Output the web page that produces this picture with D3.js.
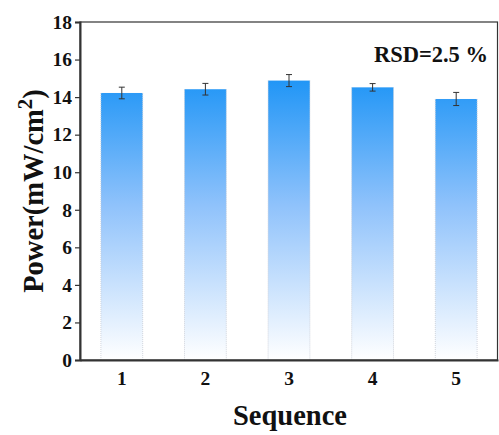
<!DOCTYPE html>
<html><head><meta charset="utf-8">
<script src="https://cdn.jsdelivr.net/npm/d3@7"></script>
</head><body style="margin:0;background:#fff">
<svg id="c" width="499" height="435" style="display:block"></svg>
<script>
const categories = ["1","2","3","4","5"];
const values = [14.22, 14.42, 14.88, 14.52, 13.90];
const errors = [0.31, 0.31, 0.32, 0.20, 0.35];
const yTicks = [0,2,4,6,8,10,12,14,16,18];

const FONT = "Liberation Serif";
const svg = d3.select("#c");
const m = {l:80, r:1, t:22, b:75};
const W = 499, H = 435;
const x = d3.scaleBand().domain(categories).range([m.l, W - m.r]).paddingInner(0.5).paddingOuter(0.25);
const y = d3.scaleLinear().domain([0,18]).range([H - m.b, m.t]);

const defs = svg.append("defs");
const g = defs.append("linearGradient").attr("id","bg").attr("gradientUnits","userSpaceOnUse")
  .attr("x1",0).attr("x2",0).attr("y1",y(15)).attr("y2",y(0));
g.append("stop").attr("offset","0%").attr("stop-color","#1f95f6");
g.append("stop").attr("offset","45%").attr("stop-color","#8fc2fb");
g.append("stop").attr("offset","100%").attr("stop-color","#ffffff");

const bars = svg.append("g");
bars.selectAll("rect").data(values).join("rect")
  .attr("x",(d,i)=>x(categories[i])).attr("width",x.bandwidth())
  .attr("y",d=>y(d)).attr("height",d=>y(0)-y(d)).attr("fill","url(#bg)");
bars.selectAll("line.s").data(values.flatMap((d,i)=>[[x(categories[i]),d],[x(categories[i])+x.bandwidth(),d]])).join("line")
  .attr("class","s").attr("x1",d=>d[0]).attr("x2",d=>d[0]).attr("y1",d=>y(d[1])).attr("y2",y(0))
  .attr("stroke","#c8ccd4").attr("stroke-width",0.8).attr("stroke-dasharray","1,1");

const eb = svg.append("g").attr("stroke","#333").attr("stroke-width",1);
values.forEach((d,i)=>{
  const cx = x(categories[i]) + x.bandwidth()/2;
  eb.append("line").attr("x1",cx).attr("x2",cx).attr("y1",y(d+errors[i])).attr("y2",y(d-errors[i]));
  eb.append("line").attr("x1",cx-3).attr("x2",cx+3).attr("y1",y(d+errors[i])).attr("y2",y(d+errors[i]));
  eb.append("line").attr("x1",cx-3).attr("x2",cx+3).attr("y1",y(d-errors[i])).attr("y2",y(d-errors[i]));
});

svg.append("rect").attr("x",m.l).attr("y",m.t).attr("width",W-m.r-m.l-0.5).attr("height",y(0)-m.t)
  .attr("fill","none").attr("stroke","#333").attr("stroke-width",1.2);

const ya = svg.append("g").attr("transform",`translate(${m.l},0)`)
  .call(d3.axisLeft(y).tickValues(yTicks).tickSize(5).tickPadding(3));
ya.attr("font-family",FONT).attr("font-weight","bold").attr("font-size",19.5);
ya.select(".domain").attr("stroke","#333").attr("stroke-width",2);
ya.selectAll(".tick line").attr("stroke","#333").attr("stroke-width",1.2);
ya.selectAll("text").attr("fill","#111");

const xa = svg.append("g").attr("transform",`translate(0,${y(0)})`)
  .call(d3.axisBottom(x).tickSize(0).tickPadding(11));
xa.attr("font-family",FONT).attr("font-weight","bold").attr("font-size",19.5);
xa.select(".domain").attr("stroke","#333").attr("stroke-width",2);
xa.selectAll("text").attr("fill","#111");

svg.append("text").attr("x",290).attr("y",425).attr("text-anchor","middle")
  .attr("font-family",FONT).attr("font-weight","bold").attr("font-size",28.5).attr("fill","#111").text("Sequence");

const yl = svg.append("text").attr("transform",`translate(43,${(m.t+y(0))/2}) rotate(-90)`)
  .attr("font-family",FONT).attr("font-weight","bold").attr("font-size",28.5).attr("fill","#111").attr("text-anchor","middle");
yl.append("tspan").text("Power(mW/cm");
yl.append("tspan").attr("dy","-11").attr("font-size",21).text("2");
yl.append("tspan").attr("dy","11").text(")");

svg.append("text").attr("x",488).attr("y",62).attr("text-anchor","end")
  .attr("font-family",FONT).attr("font-weight","bold").attr("font-size",22.5).attr("fill","#111").text("RSD=2.5 %");
</script>
</body></html>
